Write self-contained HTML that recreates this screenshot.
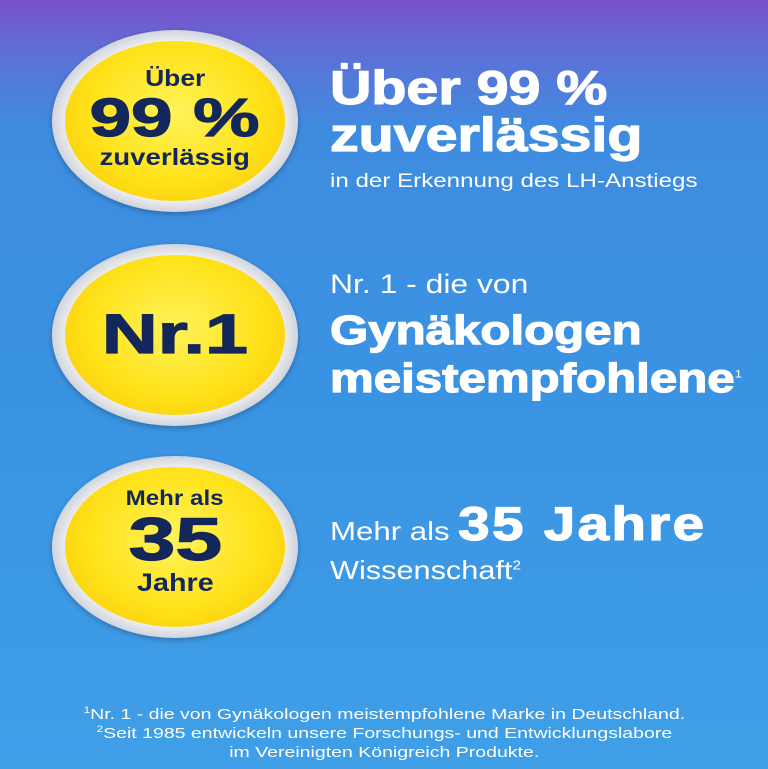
<!DOCTYPE html>
<html><head><meta charset="utf-8"><style>
body{margin:0;width:768px;height:769px;overflow:hidden;font-family:"Liberation Sans",sans-serif;
background:linear-gradient(180deg,#7b4fc9 0px,#5f6fd6 50px,#3e8ce0 130px,#3a93e2 400px,#3f9fe7 769px);position:relative}
.b{position:absolute;left:52px;width:246px;height:182px;border-radius:50%;
background:radial-gradient(ellipse at 50% 50%,#f4f4f4 60%,#c2c7d3 75%,#e8e9ee 85%,#9fa6b8 100%);box-shadow:0 2px 6px rgba(0,0,0,.25)}
.y{position:absolute;left:13px;top:11px;width:220px;height:160px;border-radius:50%;
background:radial-gradient(ellipse at 50% 45%,#fff35a 0%,#ffe21a 55%,#f6c400 100%);color:#13275a;text-align:center;font-weight:bold}
.y div{white-space:nowrap}
.s{display:inline-block}
.t{position:absolute;left:330px;color:#fff;white-space:nowrap;transform-origin:0 0}
.hv{-webkit-text-stroke:1.2px currentColor}
.f{position:absolute;left:0;width:768px;text-align:center;color:#fff;font-size:15px;line-height:17px}
.f span{display:inline-block;transform:scaleX(1.3)}
sup{line-height:0}
</style></head><body>
<div class="b" style="top:30px"><div class="y">
<div style="font-size:23px;margin-top:24px"><span class="s" style="transform:scaleX(1.15)">Über</span></div>
<div style="font-size:54px;line-height:52px" class="hv"><span class="s" style="transform:scaleX(1.38)">99 %</span></div>
<div style="font-size:23px"><span class="s" style="transform:scaleX(1.2)">zuverlässig</span></div></div></div>
<div class="b" style="top:244px"><div class="y">
<div style="font-size:56px;margin-top:46px" class="hv"><span class="s" style="transform:scaleX(1.38)">Nr.1</span></div></div></div>
<div class="b" style="top:456px"><div class="y">
<div style="font-size:21px;margin-top:20px"><span class="s" style="transform:scaleX(1.15)">Mehr als</span></div>
<div style="font-size:60px;line-height:58px" class="hv"><span class="s" style="transform:scaleX(1.4)">35</span></div>
<div style="font-size:25px"><span class="s" style="transform:scaleX(1.15)">Jahre</span></div></div></div>

<div class="t hv" style="top:64px;font-size:47px;font-weight:bold;line-height:47px;transform:scaleX(1.22)">Über 99 %<br>zuverlässig</div>
<div class="t" style="top:171px;font-size:19px;transform:scaleX(1.27)">in der Erkennung des LH-Anstiegs</div>

<div class="t" style="top:269px;font-size:27px;transform:scaleX(1.18)">Nr. 1 - die von</div>
<div class="t hv" style="top:306px;font-size:41px;font-weight:bold;line-height:48px;transform:scaleX(1.2)">Gynäkologen<br>meistempfohlene<sup style="font-size:11px;font-weight:normal;-webkit-text-stroke:0">1</sup></div>

<div class="t" style="top:499px;font-size:26px;line-height:50px;transform:scaleX(1.2)">Mehr als <b class="hv" style="font-size:47px;letter-spacing:2px">35 Jahre</b></div>
<div class="t" style="top:555px;font-size:26px;transform:scaleX(1.18)">Wissenschaft<sup style="font-size:13px">2</sup></div>

<div class="f" style="top:706px"><span><sup style="font-size:9px">1</sup>Nr. 1 - die von Gynäkologen meistempfohlene Marke in Deutschland.</span></div>
<div class="f" style="top:725px"><span><sup style="font-size:9px">2</sup>Seit 1985 entwickeln unsere Forschungs- und Entwicklungslabore</span></div>
<div class="f" style="top:744px"><span>im Vereinigten Königreich Produkte.</span></div>
</body></html>
